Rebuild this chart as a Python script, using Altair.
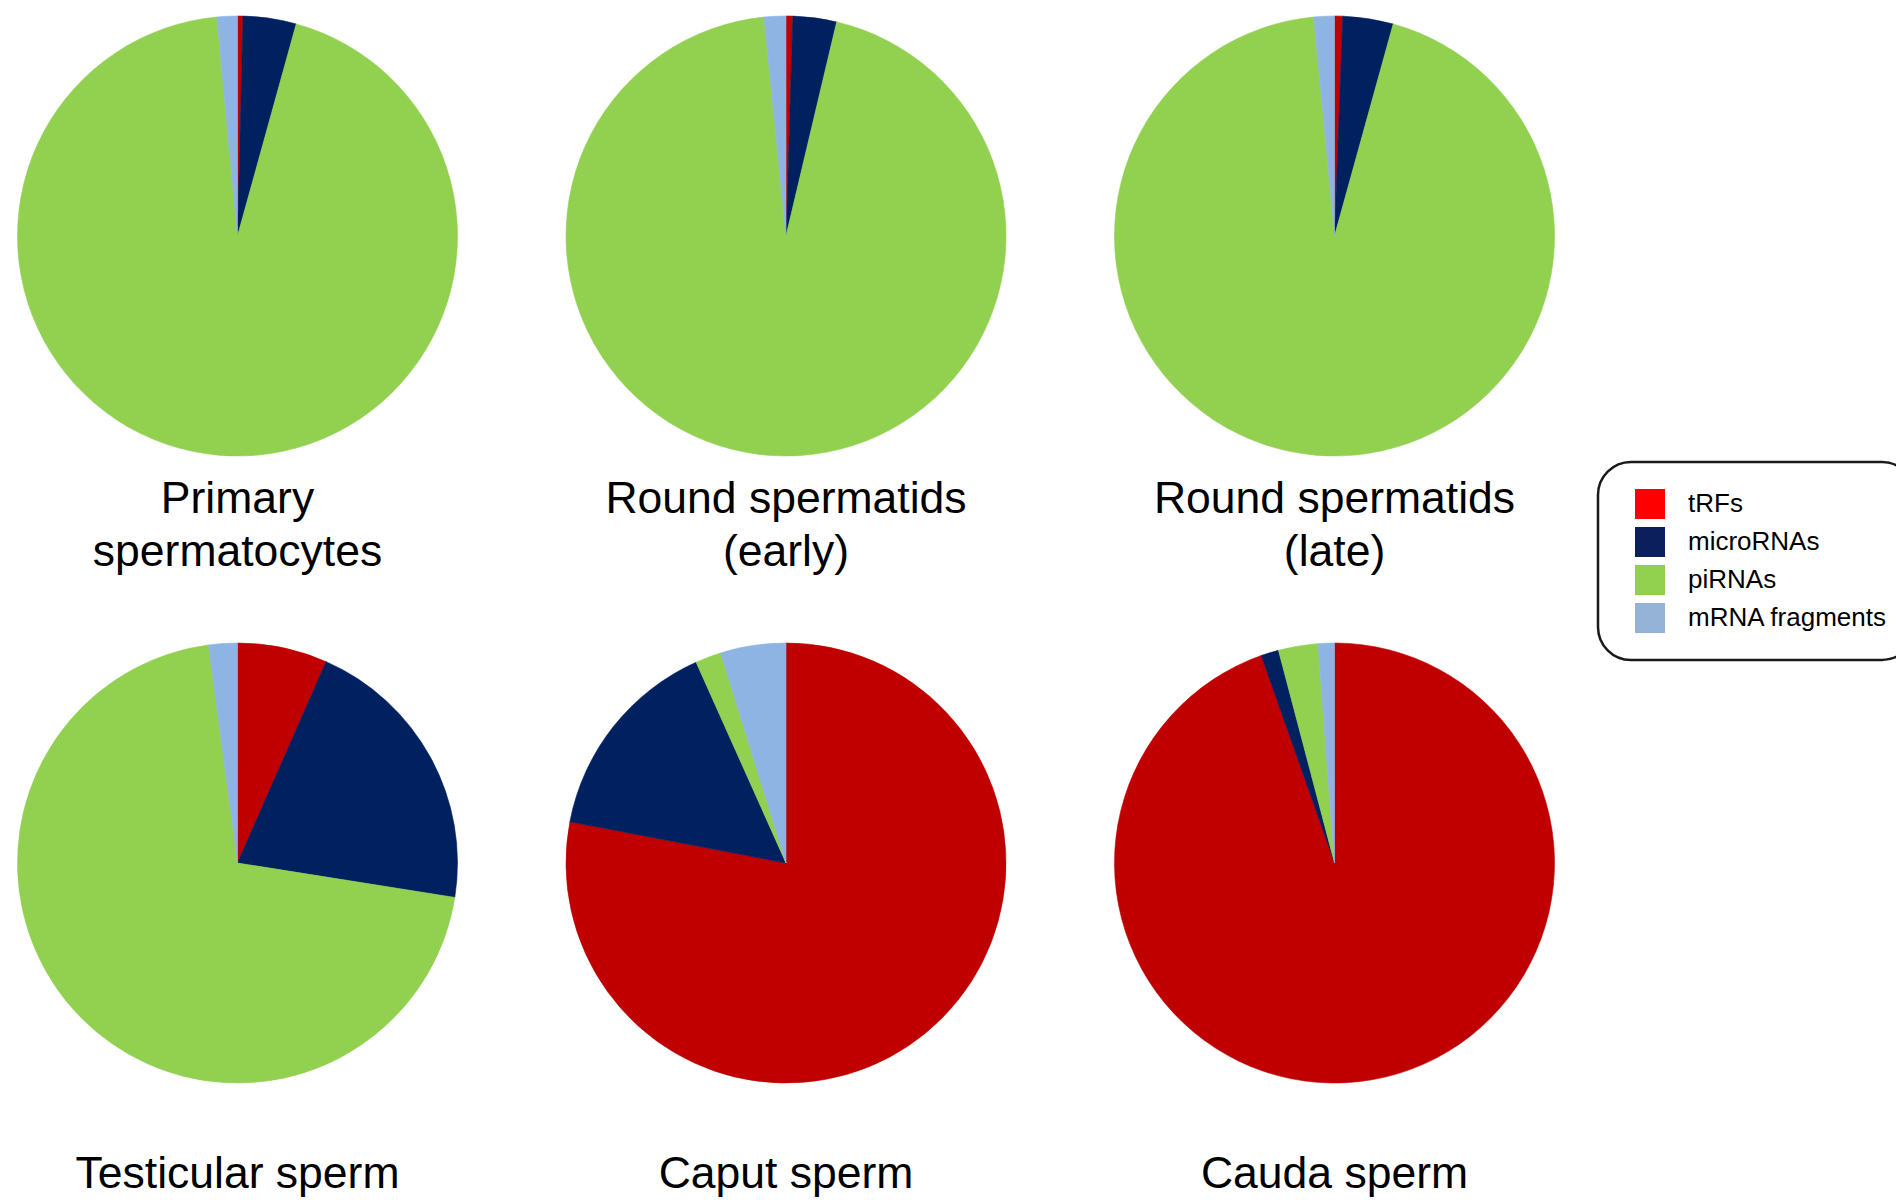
import altair as alt
import pandas as pd

# ---- data (percent of small RNA reads) ----
samples = ["Primary\nspermatocytes", "Round spermatids\n(early)", "Round spermatids\n(late)",
           "Testicular sperm", "Caput sperm", "Cauda sperm"]
panel_col = [0, 1, 2, 0, 1, 2]
panel_row = [0, 0, 0, 1, 1, 1]

types = ["tRFs", "microRNAs", "piRNAs", "mRNA fragments"]
tRFs = [0.4, 0.5, 0.6, 6.6, 78.0, 94.6]
microRNAs = [3.9, 3.2, 3.7, 20.9, 15.3, 1.3]
piRNAs = [94.2, 94.7, 94.2, 70.4, 1.9, 2.9]
mRNA_fragments = [1.5, 1.6, 1.5, 2.1, 4.8, 1.2]

pie_colors = ["#C00000", "#002060", "#92D050", "#8EB4E3"]
legend_colors = ["#FF0000", "#0A1F5C", "#92D050", "#95B3D7"]

series = [tRFs, microRNAs, piRNAs, mRNA_fragments]
rows = []
for i, s in enumerate(samples):
    for k, t in enumerate(types):
        rows.append({"sample": s, "col": panel_col[i], "row": panel_row[i],
                     "type": t, "order": k, "value": series[k][i]})
df = pd.DataFrame(rows)

# one row per label line; lfb = line index counted from the bottom line
label_rows = []
for i, s in enumerate(samples):
    lines = s.split("\n")
    n = len(lines)
    for j, ln in enumerate(lines):
        label_rows.append({"line": ln, "col": panel_col[i], "row": panel_row[i], "lfb": n - 1 - j})
labels_df = pd.DataFrame(label_rows)
legend_df = pd.DataFrame({"type": types})

xs = alt.Scale(domain=[0, 2], range=[229.5, 1326.5], nice=False, zero=False)
ys = alt.Scale(domain=[0, 1], range=[228, 855], nice=False, zero=False)

pies = alt.Chart(df).transform_stack(
    stack="value", groupby=["sample"], as_=["start", "end"],
    offset="normalize", sort=[alt.SortField("order", order="ascending")]
).mark_arc(radius=220, strokeWidth=0.6).encode(
    x=alt.X("col:Q", scale=xs, axis=None),
    y=alt.Y("row:Q", scale=ys, axis=None),
    theta=alt.Theta("start:Q", scale=alt.Scale(domain=[0, 1], range=[0, 6.283185307])),
    theta2="end:Q",
    color=alt.Color("type:N", scale=alt.Scale(domain=types, range=pie_colors), legend=None),
    stroke=alt.Stroke("type:N", scale=alt.Scale(domain=types, range=pie_colors), legend=None),
)

def label_layer(row, lfb, dy):
    return alt.Chart(labels_df).transform_filter(
        (alt.datum.lfb == lfb) & (alt.datum.row == row)
    ).mark_text(
        font="Liberation Sans", fontSize=44.5, color="#000000",
        baseline="bottom", align="center", dy=dy
    ).encode(
        x=alt.X("col:Q", scale=xs, axis=None),
        y=alt.Y("row:Q", scale=ys, axis=None),
        text="line:N",
    )

label_layers = [label_layer(0, 0, 338.5), label_layer(0, 1, 285.5), label_layer(1, 0, 334)]

legend_layer = alt.Chart(legend_df).mark_square(size=0, strokeWidth=0).encode(
    color=alt.Color("type:N", scale=alt.Scale(domain=types, range=legend_colors),
                    legend=alt.Legend(
                        orient="none", legendX=1590, legendY=454, title=None,
                        symbolType="square", symbolSize=900, symbolOpacity=1,
                        symbolStrokeWidth=0, symbolOffset=10,
                        labelFont="Liberation Sans", labelFontSize=26, labelColor="#000000",
                        labelOffset=23, labelLimit=400, rowPadding=8, padding=27,
                        strokeColor="#1a1a1a", cornerRadius=33)),
)

chart = alt.layer(pies, *label_layers, legend_layer).resolve_scale(
    color="independent"
).properties(
    width=1888, height=1192, padding=0,
    autosize=alt.AutoSizeParams(type="none")
).configure_view(stroke=None).configure_legend(strokeWidth=2.5)

chart.save("out.html", embed_options={"renderer": "svg", "actions": False})
